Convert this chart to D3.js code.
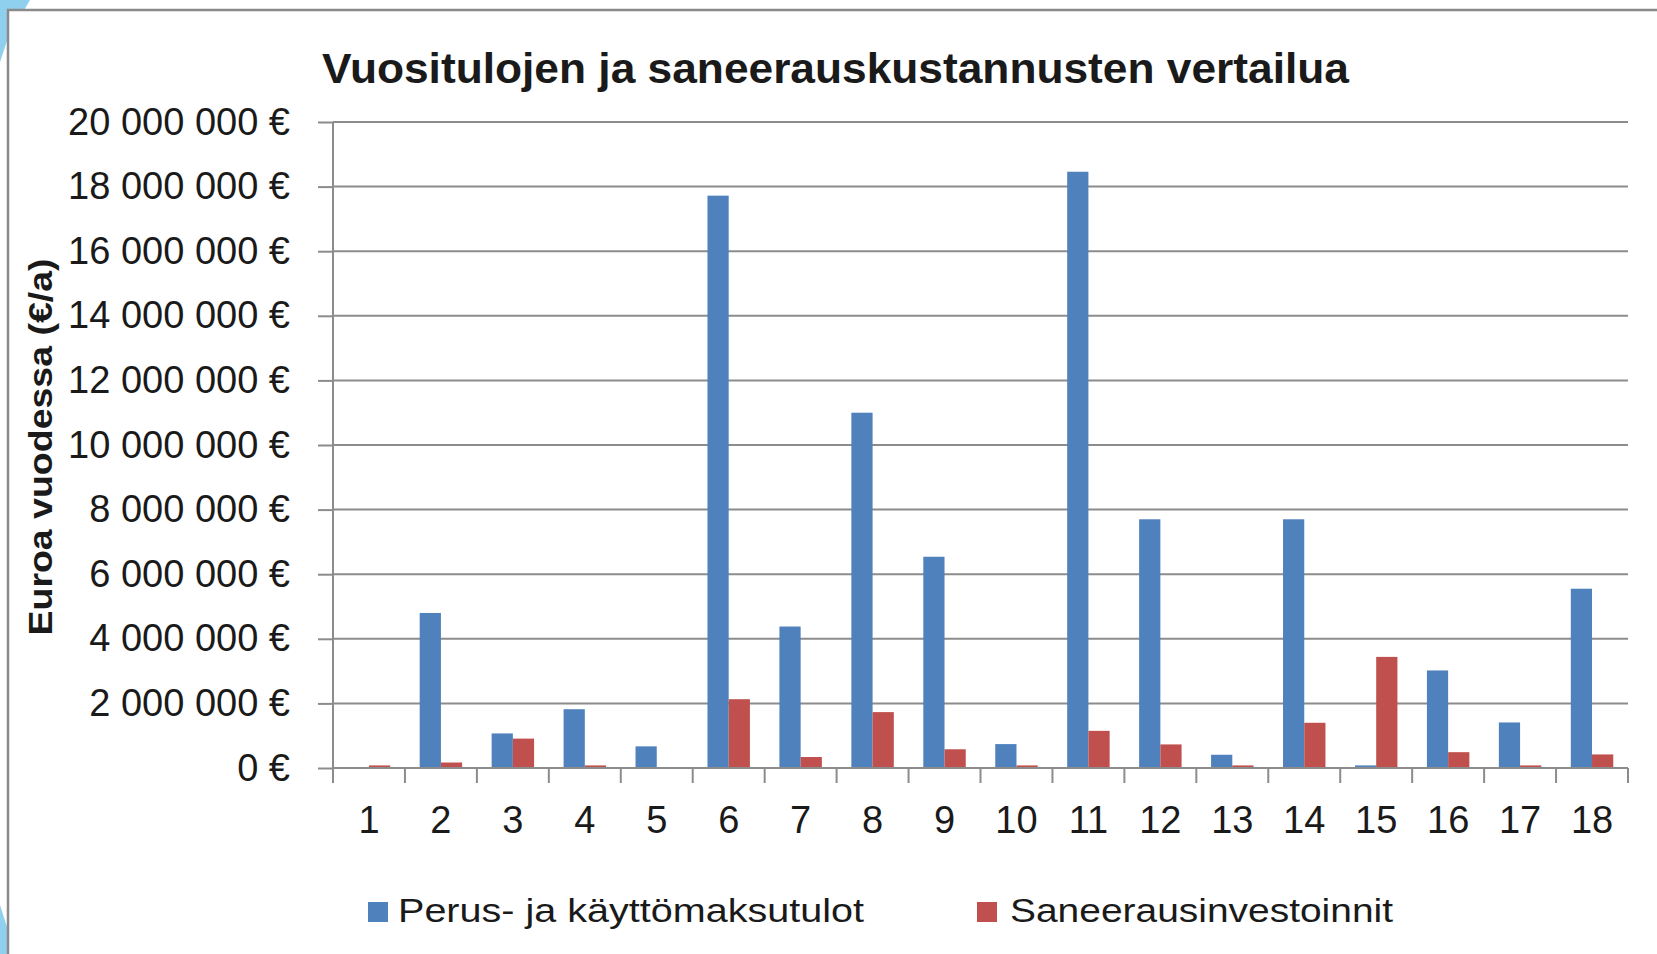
<!DOCTYPE html>
<html>
<head>
<meta charset="utf-8">
<script src="https://cdn.jsdelivr.net/npm/d3@7"></script>
<style>
    body { margin: 0; background: #fff; }
    text { font-family: "Liberation Sans", Arial, sans-serif; fill: #1a1a1a; }
</style>
</head>
<body>
<svg id="chart"></svg>
<script>
const   width  = 1657,
        height = 954;

const MARGIN = {
    "LEFT": 333,
    "RIGHT": 29,
    "TOP": 122,
    "BOTTOM": 186,
};

// chart data
const categories = ["1","2","3","4","5","6","7","8","9","10","11","12","13","14","15","16","17","18"];
const seriesNames = ["Perus- ja käyttömaksutulot", "Saneerausinvestoinnit"];
const incomeValues = [0, 4800000, 1070000, 1820000, 670000, 17720000, 4380000, 11000000, 6540000,
                      740000, 18460000, 7700000, 410000, 7700000, 80000, 3020000, 1410000, 5550000];
const renovationValues = [80000, 170000, 910000, 80000, 0, 2130000, 340000, 1730000, 580000,
                          80000, 1150000, 730000, 80000, 1400000, 3440000, 490000, 80000, 420000];
const yTicks = [0, 2000000, 4000000, 6000000, 8000000, 10000000, 12000000, 14000000, 16000000, 18000000, 20000000];
const colors = ["#4f81bd", "#c0504d"];

const fi = d3.formatLocale({ decimal: ",", thousands: " ", grouping: [3], currency: ["", " €"] });
const fmt = fi.format("$,");

const svg = d3.select("#chart").attr("width", width).attr("height", height);

// bits of the slide background peeking out at the left edge
svg.append("path").attr("d", "M0,0 L30,0 L8,38 L0,62 Z").attr("fill", "#8fd0ee");
svg.append("path").attr("d", "M0,905 L8,930 L8,954 L0,954 Z").attr("fill", "#8fd0ee");

// chart area frame (only top and left edge are in the crop)
svg.append("rect")
    .attr("x", 8).attr("y", 10)
    .attr("width", width + 10).attr("height", height + 10)
    .attr("fill", "#fff")
    .attr("stroke", "#8a8a8a").attr("stroke-width", 2.5);

const x0 = d3.scaleBand()
    .domain(categories)
    .range([MARGIN.LEFT, width - MARGIN.RIGHT]);

const x1 = d3.scaleBand()
    .domain(seriesNames)
    .range([x0.step() * 0.205, x0.step() * 0.795]);

const y = d3.scaleLinear()
    .domain([0, 20000000])
    .range([768, MARGIN.TOP]);

// gridlines
svg.append("g")
    .selectAll("line")
    .data(yTicks)
    .join("line")
    .attr("x1", MARGIN.LEFT).attr("x2", width - MARGIN.RIGHT)
    .attr("y1", d => y(d)).attr("y2", d => y(d))
    .attr("stroke", "#8c8c8c").attr("stroke-width", 2);

// y axis
const yAxis = svg.append("g")
    .attr("transform", `translate(${MARGIN.LEFT},0)`)
    .call(d3.axisLeft(y).tickValues(yTicks).tickFormat(fmt).tickSize(15).tickPadding(28));
yAxis.select(".domain").remove();
yAxis.append("line")
    .attr("x1", 0).attr("x2", 0)
    .attr("y1", y(20000000)).attr("y2", y(0) + 15)
    .attr("stroke", "#8c8c8c").attr("stroke-width", 2);
yAxis.selectAll(".tick line").attr("stroke", "#8c8c8c").attr("stroke-width", 2);
yAxis.selectAll(".tick text")
    .attr("font-size", 38)
    .attr("fill", "#1a1a1a");

// bars
const data = categories.map((c, i) => ({ cat: c, vals: [incomeValues[i], renovationValues[i]] }));

svg.append("g")
    .selectAll("g")
    .data(data)
    .join("g")
    .attr("transform", d => `translate(${x0(d.cat)},0)`)
    .selectAll("rect")
    .data(d => d.vals.map((v, j) => ({ key: seriesNames[j], v: v, j: j })))
    .join("rect")
    .attr("x", d => x1(d.key))
    .attr("width", x1.bandwidth())
    .attr("y", d => y(d.v))
    .attr("height", d => y(0) - y(d.v))
    .attr("fill", d => colors[d.j]);

// x axis: line + boundary ticks
const xAxis = svg.append("g");
xAxis.append("line")
    .attr("x1", MARGIN.LEFT).attr("x2", width - MARGIN.RIGHT)
    .attr("y1", y(0)).attr("y2", y(0))
    .attr("stroke", "#8c8c8c").attr("stroke-width", 2);
xAxis.selectAll(".bound")
    .data(d3.range(categories.length + 1))
    .join("line")
    .attr("class", "bound")
    .attr("x1", i => MARGIN.LEFT + i * x0.step())
    .attr("x2", i => MARGIN.LEFT + i * x0.step())
    .attr("y1", y(0)).attr("y2", y(0) + 15)
    .attr("stroke", "#8c8c8c").attr("stroke-width", 2);

const xLabels = svg.append("g")
    .attr("transform", `translate(0,${y(0)})`)
    .call(d3.axisBottom(x0).tickSize(0).tickPadding(38));
xLabels.select(".domain").remove();
xLabels.selectAll(".tick text")
    .attr("font-size", 38)
    .attr("fill", "#1a1a1a");

// title
svg.append("text")
    .attr("x", 322).attr("y", 83)
    .attr("font-size", 43)
    .attr("font-weight", "bold")
    .attr("textLength", 1027)
    .attr("lengthAdjust", "spacingAndGlyphs")
    .text("Vuositulojen ja saneerauskustannusten vertailua");

// y axis title
svg.append("text")
    .attr("transform", "translate(52,447) rotate(-90)")
    .attr("text-anchor", "middle")
    .attr("font-size", 34)
    .attr("font-weight", "bold")
    .attr("textLength", 377)
    .attr("lengthAdjust", "spacingAndGlyphs")
    .text("Euroa vuodessa (€/a)");

// legend
const legendPos = [{ sx: 368, tx: 398, tw: 466 }, { sx: 977, tx: 1010, tw: 383 }];
const legend = svg.append("g")
    .selectAll("g")
    .data(seriesNames)
    .join("g");
legend.append("rect")
    .attr("x", (d, i) => legendPos[i].sx)
    .attr("y", 902)
    .attr("width", 20).attr("height", 20)
    .attr("fill", (d, i) => colors[i]);
legend.append("text")
    .attr("x", (d, i) => legendPos[i].tx)
    .attr("y", 922)
    .attr("font-size", 34)
    .attr("textLength", (d, i) => legendPos[i].tw)
    .attr("lengthAdjust", "spacingAndGlyphs")
    .text(d => d);
</script>
</body>
</html>
